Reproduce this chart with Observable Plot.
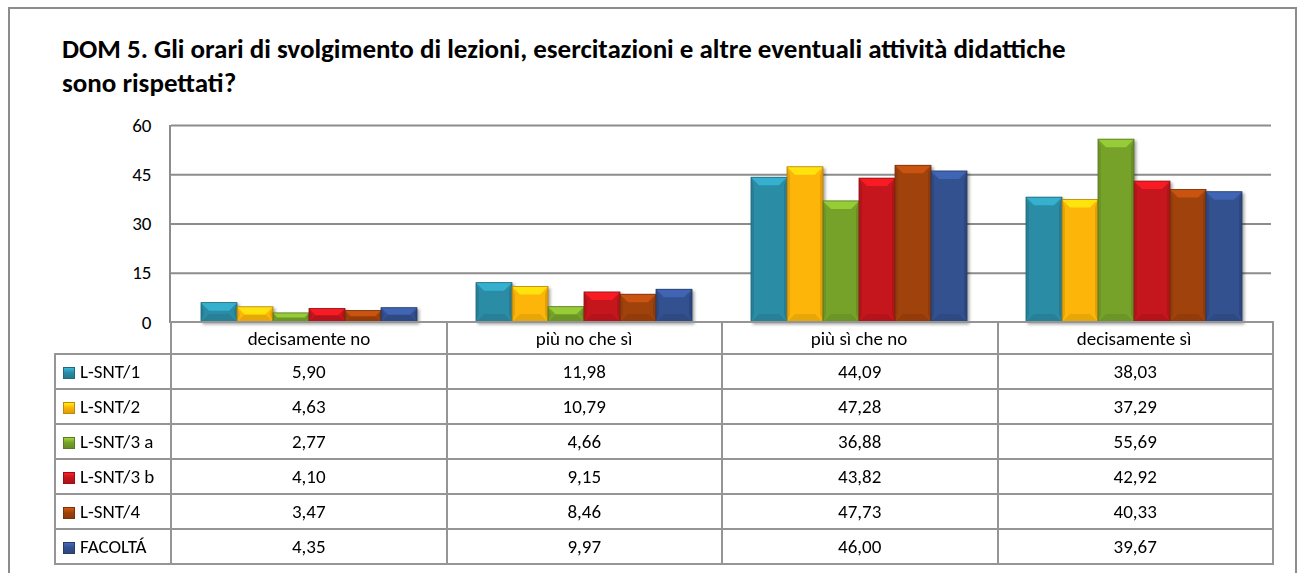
<!DOCTYPE html>
<html>
<head>
<meta charset="utf-8">
<script src="https://cdn.jsdelivr.net/npm/d3@7"></script>
<script src="https://cdn.jsdelivr.net/npm/@observablehq/plot@0.6"></script>
<style>
  html, body { margin: 0; padding: 0; background: #fff; }
  body { font-family: Calibri, Carlito, "Open Sans", Lato, sans-serif; }
  #wrap { position: relative; width: 1302px; height: 573px; overflow: hidden; background: #fff; }
  #frame { position: absolute; left: 8px; top: 7px; width: 1289px; height: 620px; border: 2px solid #8c8c8c; box-sizing: border-box; }
  #title { position: absolute; left: 62px; top: 32px; font-weight: bold; font-size: 27px; line-height: 34px; color: #000; white-space: nowrap; }
  #chart { position: absolute; left: 0; top: 0; }
  #axisline { position: absolute; left: 169px; top: 125px; width: 2px; height: 198px; background: #8c8c8c; }
  table { position: absolute; left: 54px; top: 321px; border-collapse: collapse; table-layout: fixed; font-size: 19px; color: #000; }
  td { border: 2px solid #959595; padding: 0; text-align: center; height: 33px; white-space: nowrap; }
  tr.head td { height: 30px; }
  td.legend { text-align: left; padding-left: 7px; }
  td.empty { border-top: none; border-left: none; }
  .key { display: inline-block; width: 12px; height: 12px; vertical-align: -1px; margin-right: 5px; box-sizing: border-box; }
</style>
</head>
<body>
<div id="wrap">
  <div id="frame"></div>
  <div id="title"></div>
  <div id="chart"></div>
  <div id="axisline"></div>
  <table id="tbl"></table>
</div>
<script>
// ---- data ----
const titleLines = [
  "DOM 5. Gli orari di svolgimento di lezioni, esercitazioni e altre eventuali attività didattiche",
  "sono rispettati?"
];
const categories = ["decisamente no", "più no che sì", "più sì che no", "decisamente sì"];
const seriesNames = ["L-SNT/1", "L-SNT/2", "L-SNT/3 a", "L-SNT/3 b", "L-SNT/4", "FACOLTÁ"];
const vLSNT1  = [5.90, 11.98, 44.09, 38.03];
const vLSNT2  = [4.63, 10.79, 47.28, 37.29];
const vLSNT3a = [2.77, 4.66, 36.88, 55.69];
const vLSNT3b = [4.10, 9.15, 43.82, 42.92];
const vLSNT4  = [3.47, 8.46, 47.73, 40.33];
const vFacolta = [4.35, 9.97, 46.00, 39.67];
const seriesColors = ["#2A8CA5", "#FDB50A", "#77A22A", "#C5161D", "#A0420C", "#33508F"];
const yTicks = [0, 15, 30, 45, 60];

const seriesValues = [vLSNT1, vLSNT2, vLSNT3a, vLSNT3b, vLSNT4, vFacolta];
const data = seriesNames.flatMap((s, i) =>
  categories.map((c, j) => ({series: s, cat: c, value: seriesValues[i][j]})));

document.getElementById("title").innerHTML = titleLines.join("<br>");

const FONT = "Calibri, Carlito, 'Open Sans', Lato, sans-serif";

const chart = Plot.plot({
  width: 1302,
  height: 355,
  marginLeft: 170,
  marginRight: 30,
  marginTop: 125,
  marginBottom: 33,
  style: {fontFamily: FONT, fontSize: "19px", color: "#000", background: "transparent"},
  fx: {domain: categories, padding: 0, label: null},
  x: {domain: seriesNames, paddingInner: 0, paddingOuter: 0.74, axis: null},
  y: {domain: [0, 60], label: null},
  color: {domain: seriesNames, range: seriesColors},
  marks: [
    Plot.gridY(yTicks.slice(1), {stroke: "#8c8c8c", strokeOpacity: 1, strokeWidth: 2}),
    Plot.barY(data, {fx: "cat", x: "series", y: "value", fill: "series"}),
    Plot.axisY(yTicks, {tickSize: 0, tickPadding: 20, fontSize: 19, label: null}),
    Plot.axisFx({anchor: "bottom", tickSize: 0, tickPadding: 9, fontSize: 19, label: null})
  ]
});
document.getElementById("chart").appendChild(chart);

// bevel effect derived from the rendered bars
chart.querySelectorAll('g[aria-label="bar"]').forEach(g => {
  g.style.filter = "drop-shadow(2px 2px 1.5px rgba(0,0,0,0.35))";
});
chart.querySelectorAll('g[aria-label="bar"] rect').forEach(r => {
  const x = +r.getAttribute("x"), y = +r.getAttribute("y");
  const w = +r.getAttribute("width"), h = +r.getAttribute("height");
  const fill = r.getAttribute("fill");
  const base = d3.color(fill);
  const light = base.brighter(0.7).formatHex();
  const dark = base.darker(0.45).formatHex();
  const edge = base.darker(0.9).formatHex();
  const b = Math.min(8, h / 2, w / 2);
  const s = Math.min(3, w / 4);
  const parent = r.parentNode;
  const ns = "http://www.w3.org/2000/svg";
  const poly = (pts, f, op) => {
    const p = document.createElementNS(ns, "polygon");
    p.setAttribute("points", pts.map(d => d.join(",")).join(" "));
    p.setAttribute("fill", f);
    if (op != null) p.setAttribute("fill-opacity", op);
    if (r.getAttribute("transform")) p.setAttribute("transform", r.getAttribute("transform"));
    parent.appendChild(p);
  };
  poly([[x, y], [x + s, y + b], [x + s, y + h - b], [x, y + h]], dark, 0.6);
  poly([[x + w, y], [x + w - s, y + b], [x + w - s, y + h - b], [x + w, y + h]], dark, 0.75);
  poly([[x, y + h], [x + w, y + h], [x + w - b, y + h - b], [x + b, y + h - b]], dark, 0.55);
  poly([[x, y], [x + w, y], [x + w - b, y + b], [x + b, y + b]], light, 0.9);
  const o = document.createElementNS(ns, "rect");
  o.setAttribute("x", x); o.setAttribute("y", y); o.setAttribute("width", w); o.setAttribute("height", h);
  o.setAttribute("fill", "none"); o.setAttribute("stroke", edge); o.setAttribute("stroke-width", 0.8);
  if (r.getAttribute("transform")) o.setAttribute("transform", r.getAttribute("transform"));
  parent.appendChild(o);
});

// data table under the chart
const fmt = v => v.toFixed(2).replace(".", ",");
const tbl = document.getElementById("tbl");
const colgroup = document.createElement("colgroup");
[116, 275.5, 275.5, 275.5, 275.5].forEach(wd => {
  const c = document.createElement("col"); c.style.width = wd + "px"; colgroup.appendChild(c);
});
tbl.appendChild(colgroup);
const head = document.createElement("tr"); head.className = "head";
const e = document.createElement("td"); e.className = "empty"; head.appendChild(e);
categories.forEach(() => head.appendChild(document.createElement("td")));
tbl.appendChild(head);
seriesNames.forEach((s, i) => {
  const tr = document.createElement("tr");
  const lt = document.createElement("td"); lt.className = "legend";
  const col = d3.color(seriesColors[i]);
  const key = document.createElement("span"); key.className = "key";
  key.style.background = `linear-gradient(180deg, ${col.brighter(0.8)} 0%, ${col} 45%, ${col.darker(0.4)} 100%)`;
  key.style.border = `1px solid ${col.darker(0.8)}`;
  lt.appendChild(key);
  lt.appendChild(document.createTextNode(s));
  tr.appendChild(lt);
  seriesValues[i].forEach(v => {
    const td = document.createElement("td"); td.textContent = fmt(v); tr.appendChild(td);
  });
  tbl.appendChild(tr);
});
</script>
</body>
</html>
